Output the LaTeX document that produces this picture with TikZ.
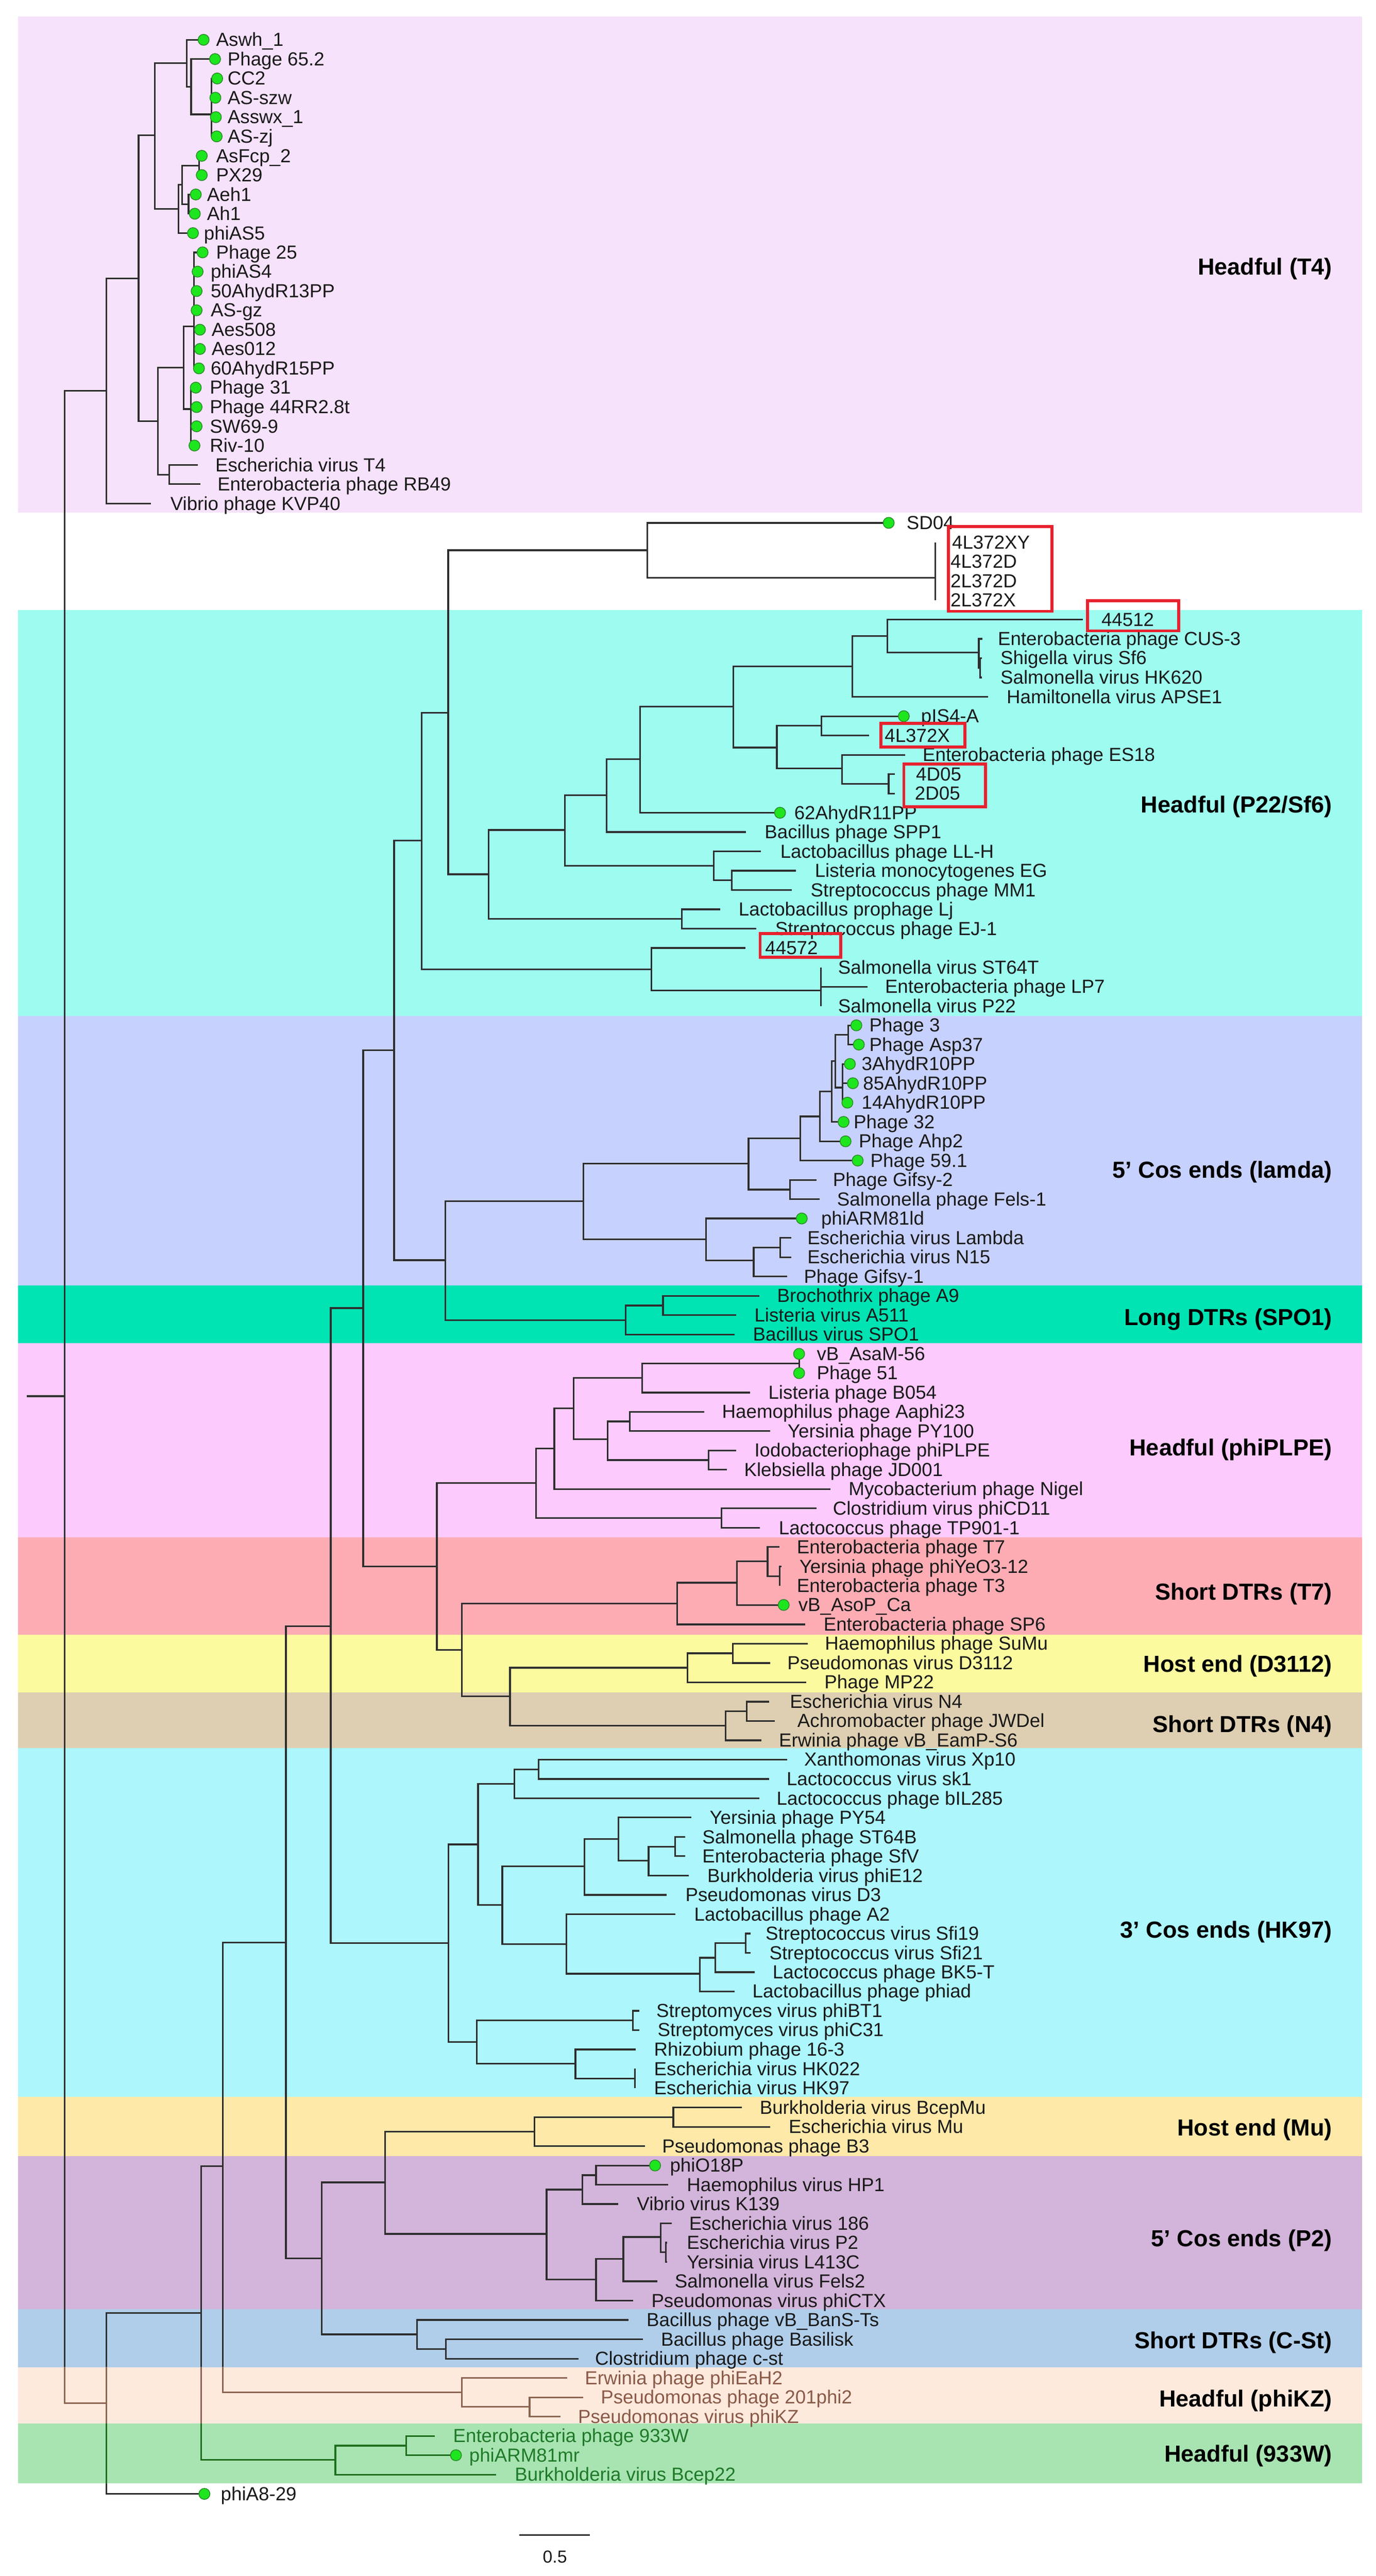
\documentclass[tikz,border=0pt]{standalone}
\usepackage{fontspec}
\setmainfont{Liberation Sans}
\definecolor{bT4}{HTML}{F6E2FB}
\definecolor{bP22}{HTML}{9EFBEF}
\definecolor{bLam}{HTML}{C7D1FD}
\definecolor{bSPO}{HTML}{00E3B3}
\definecolor{bPL}{HTML}{FCCAFC}
\definecolor{bT7}{HTML}{FDACB4}
\definecolor{bDT}{HTML}{FBFA9F}
\definecolor{bNF}{HTML}{DECFB2}
\definecolor{bHK}{HTML}{ACF6FC}
\definecolor{bMu}{HTML}{FEE9A9}
\definecolor{bPT}{HTML}{D3B4DA}
\definecolor{bCS}{HTML}{B0CEEA}
\definecolor{bKZ}{HTML}{FEE9DD}
\definecolor{bW}{HTML}{A8E4B1}
\definecolor{treec}{HTML}{2E2E2E}
\definecolor{txtc}{HTML}{1A1A1A}
\definecolor{kzline}{HTML}{8C6452}
\definecolor{kztext}{HTML}{8A5A48}
\definecolor{wline}{HTML}{1E6E1E}
\definecolor{wtext}{HTML}{1F7A2A}
\definecolor{dotg}{HTML}{1EE61E}
\definecolor{dotedge}{HTML}{2B8F2B}
\definecolor{redb}{HTML}{E8212E}
\newcommand\LblFont{\fontsize{11.4}{13}\selectfont}
\newcommand\CladeFont{\bfseries\fontsize{14}{16}\selectfont}
\newif\ifLines \newif\ifLabels \newif\ifDots
\newcommand\TNode[4]{\coordinate (#1) at (#3,#4);\ifLines\draw[br] (#2) |- (#1);\fi}
\newcommand\TLeaf[7][]{\coordinate (#2) at (#4,#5);\ifLines\draw[br] (#3) |- (#2);\fi\ifLabels\node[lbl,#1] (#2-t) at (#6,#5) {#7};\fi}
\newcommand\TLeafD[7][]{\TLeaf[#1]{#2}{#3}{#4}{#5}{#6}{#7}\ifDots\node[gdot] (#2-d) at (#2) {};\fi}
\tikzset{
 brline/.style={draw=treec, line width=1.0pt},
 br/.style={brline},
 lbl/.style={anchor=base west, inner sep=0pt, yshift=-3.9pt, font=\LblFont, text=txtc},
 gdot/.style={circle, fill=dotg, draw=dotedge, line width=0.5pt, minimum size=6.6pt, inner sep=0pt},
 clade/.style={anchor=base east, inner sep=0pt, yshift=-5pt, font=\CladeFont, text=black},
 rbox/.style={draw=redb, line width=1.8pt},
 kzt/.style={text=kztext},
 wt/.style={text=wtext}
}
\newcommand\TreeBody{%
\coordinate (root0) at (16.1,841.4);
\coordinate (root) at (38.9,841.4);
\ifLines\draw[br] (root0) -- (root);\fi
% ---------- T4 ----------
\TNode{t4n}{root}{64.0}{235.5}
\TNode{t4a}{t4n}{83.5}{167.7}
\TLeaf{kvp}{t4n}{91.0}{303.5}{102.5}{Vibrio phage KVP40}
\TNode{t4b}{t4a}{93.2}{81.5}
\TNode{t4c}{t4a}{95.1}{253.8}
\TNode{t4d}{t4b}{112.5}{38.1}
\TLeafD{aswh}{t4d}{122.7}{24.0}{130.1}{Aswh\_1}
\TNode{t4e}{t4d}{115.2}{52.2}
\TLeafD{p652}{t4e}{129.6}{35.6}{137.0}{Phage 65.2}
\TNode{t4f}{t4e}{127.4}{68.9}
\TLeafD{cc2}{t4f}{130.9}{47.3}{137.0}{CC2}
\TLeafD{asszw}{t4f}{129.8}{58.9}{137.0}{AS-szw}
\TLeafD{asswx}{t4f}{130.1}{70.6}{137.0}{Asswx\_1}
\TLeafD{aszj}{t4f}{130.6}{82.2}{137.0}{AS-zj}
\TNode{t4g}{t4b}{107.5}{125.9}
\TNode{t4h}{t4g}{109.7}{111.3}
\TNode{t4i}{t4h}{119.9}{99.7}
\TLeafD{asfcp}{t4i}{121.6}{93.9}{130.1}{AsFcp\_2}
\TLeafD{px29}{t4i}{121.6}{105.5}{130.1}{PX29}
\TNode{t4j}{t4h}{113.6}{123.0}
\TLeafD{aeh1}{t4j}{118.0}{117.2}{124.6}{Aeh1}
\TLeafD{ah1}{t4j}{117.4}{128.8}{124.6}{Ah1}
\TLeafD{phias5}{t4g}{116.3}{140.5}{122.7}{phiAS5}
\TNode{t4r}{t4c}{110.6}{221.5}
\TNode{t4p}{t4r}{117.0}{196.6}
\TLeafD{p25}{t4p}{122.1}{152.1}{130.1}{Phage 25}
\TLeafD{phias4}{t4p}{119.1}{163.7}{126.8}{phiAS4}
\TLeafD{a50}{t4p}{118.5}{175.4}{126.8}{50AhydR13PP}
\TLeafD{asgz}{t4p}{118.5}{187.0}{126.8}{AS-gz}
\TLeafD{aes508}{t4p}{120.5}{198.7}{127.4}{Aes508}
\TLeafD{aes012}{t4p}{120.5}{210.3}{127.4}{Aes012}
\TLeafD{a60}{t4p}{119.9}{222.0}{126.8}{60AhydR15PP}
\TNode{t4q}{t4r}{115.0}{246.5}
\TLeafD{p31}{t4q}{118.0}{233.6}{126.3}{Phage 31}
\TLeafD{p44rr}{t4q}{118.5}{245.3}{126.3}{Phage 44RR2.8t}
\TLeafD{sw69}{t4q}{118.5}{256.9}{126.3}{SW69-9}
\TLeafD{riv10}{t4q}{117.2}{268.5}{126.3}{Riv-10}
\TNode{t4t}{t4c}{102.0}{286.0}
\TLeaf{t4}{t4t}{119.1}{280.2}{129.6}{Escherichia virus T4}
\TLeaf{rb49}{t4t}{120.7}{291.8}{130.9}{Enterobacteria phage RB49}
% ---------- lower main clade ----------
\TNode{m0}{root}{64.0}{1448.3}
\TLeafD{a829}{m0}{123.2}{1502.9}{132.9}{phiA8-29}
\TNode{m1}{m0}{121.3}{1393.8}
\TNode{m2}{m1}{134.3}{1305.5}
\TNode{m3}{m2}{172.3}{1170.6}
\TNode{m4}{m3}{199.3}{980.0}
\TNode{m5}{m4}{218.9}{788.3}
\TNode{m6}{m5}{237.5}{633.0}
\TNode{m8}{m6}{254.2}{506.6}
\TNode{m9}{m8}{270.1}{429.5}
% SD04 group
\TNode{sd}{m9}{390.2}{331.6}
\TLeafD{sd04}{sd}{535.6}{315.1}{546.2}{SD04}
\TNode{lgrp}{sd}{563.7}{348.3}
\TLeaf{lxy}{lgrp}{563.7}{326.8}{573.6}{4L372XY}
\TLeaf{lfd}{lgrp}{563.7}{338.4}{572.7}{4L372D}
\TLeaf{ltd}{lgrp}{563.7}{350.1}{572.7}{2L372D}
\TLeaf{ltx}{lgrp}{563.7}{361.7}{572.7}{2L372X}
% P22/Sf6
\TNode{m10}{m9}{294.4}{526.9}
\TNode{m11}{m10}{340.5}{500.2}
\TNode{m12}{m11}{365.5}{479.1}
\TLeaf{spp1}{m12}{449.5}{501.4}{460.7}{Bacillus phage SPP1}
\TNode{m13}{m12}{385.8}{457.6}
\TLeafD{a62}{m13}{470.1}{489.8}{478.5}{62AhydR11PP}
\TNode{m14}{m13}{442.0}{425.9}
\TNode{m15}{m14}{513.8}{401.6}
\TNode{m17}{m15}{534.7}{383.4}
\TLeaf{nfft}{m17}{652.6}{373.4}{663.6}{44512}
\TNode{cus}{m17}{589.9}{393.1}
\TLeaf{cus3}{cus}{592.0}{385.0}{601.2}{Enterobacteria phage CUS-3}
\TNode{sfn}{cus}{590.8}{402.5}
\TLeaf{sf6}{sfn}{591.8}{396.6}{602.8}{Shigella virus Sf6}
\TLeaf{hk620}{sfn}{591.8}{408.3}{602.8}{Salmonella virus HK620}
\TLeaf{apse}{m15}{595.6}{419.9}{606.5}{Hamiltonella virus APSE1}
\TNode{m16}{m14}{468.2}{450.5}
\TNode{m18}{m16}{495.1}{437.4}
\TLeafD{pis4}{m18}{544.7}{431.6}{554.9}{pIS4-A}
\TLeaf{lfx}{m18}{523.8}{443.2}{533.0}{4L372X}
\TNode{m19}{m16}{507.5}{463.1}
\TLeaf{es18}{m19}{545.6}{454.9}{555.9}{Enterobacteria phage ES18}
\TNode{dfive}{m19}{535.6}{472.35}
\TLeaf{dfour}{dfive}{539.4}{466.5}{551.9}{4D05}
\TLeaf{dtwo}{dfive}{539.4}{478.2}{551.2}{2D05}
\TNode{llh}{m11}{430.1}{521.7}
\TLeaf{llhl}{llh}{458.5}{513.1}{470.1}{Lactobacillus phage LL-H}
\TNode{egn}{llh}{441.1}{530.55}
\TLeaf{egl}{egn}{479.7}{524.7}{490.9}{Listeria monocytogenes EG}
\TLeaf{mm1}{egn}{477.2}{536.4}{488.4}{Streptococcus phage MM1}
\TNode{ljn}{m10}{410.8}{553.85}
\TLeaf{ljl}{ljn}{433.9}{548.0}{445.0}{Lactobacillus prophage Lj}
\TLeaf{ej1}{ljn}{455.7}{559.7}{467.0}{Streptococcus phage EJ-1}
\TNode{pff}{m8}{392.7}{584.1}
\TLeaf{nffs}{pff}{449.4}{571.3}{461.0}{44572}
\TNode{stn}{pff}{494.7}{596.9}
\TLeaf{st64t}{stn}{494.7}{583.0}{504.9}{Salmonella virus ST64T}
\TLeaf{lp7}{stn}{522.8}{594.6}{533.2}{Enterobacteria phage LP7}
\TLeaf{p22}{stn}{494.7}{606.3}{504.9}{Salmonella virus P22}
% lambda
\TNode{lam}{m6}{268.3}{759.45}
\TNode{la1}{lam}{351.5}{723.9}
\TNode{la2}{la1}{451.1}{701.3}
\TNode{la4}{la2}{482.3}{686.1}
\TLeafD{p591}{la4}{516.9}{699.4}{524.4}{Phage 59.1}
\TNode{la5}{la4}{494.1}{672.8}
\TLeafD{ahp2}{la5}{509.6}{687.8}{517.4}{Phage Ahp2}
\TNode{la6}{la5}{501.3}{657.7}
\TLeafD{p32}{la6}{508.4}{676.1}{514.3}{Phage 32}
\TNode{la7}{la6}{503.4}{639.5}
\TNode{lbn}{la7}{511.3}{623.7}
\TLeafD{ph3}{lbn}{516.1}{617.9}{523.8}{Phage 3}
\TLeafD{asp37}{lbn}{517.6}{629.5}{523.8}{Phage Asp37}
\TNode{lcn}{la7}{507.9}{655.4}
\TLeafD{athree}{lcn}{512.2}{641.2}{519.1}{3AhydR10PP}
\TLeafD{aeightfive}{lcn}{514.0}{652.8}{520.0}{85AhydR10PP}
\TLeafD{afourteen}{lcn}{510.7}{664.5}{519.1}{14AhydR10PP}
\TNode{gifn}{la2}{476.0}{716.9}
\TLeaf{gif2}{gifn}{492.0}{711.1}{501.8}{Phage Gifsy-2}
\TLeaf{fels1}{gifn}{494.1}{722.7}{504.3}{Salmonella phage Fels-1}
\TNode{la3}{la1}{425.5}{746.9}
\TLeafD{arm}{la3}{483.2}{734.3}{494.7}{phiARM81ld}
\TNode{lbd}{la3}{454.2}{759.5}
\TNode{lbdn}{lbd}{470.1}{751.8}
\TLeaf{lambda}{lbdn}{476.8}{746.0}{486.4}{Escherichia virus Lambda}
\TLeaf{nfifteen}{lbdn}{476.8}{757.6}{486.4}{Escherichia virus N15}
\TLeaf{gifsy1}{lbd}{474.4}{769.3}{484.3}{Phage Gifsy-1}
% SPO1
\TNode{spo}{lam}{377.1}{795.5}
\TNode{spoa}{spo}{399.6}{786.75}
\TLeaf{anine}{spoa}{457.6}{780.9}{468.2}{Brochothrix phage A9}
\TLeaf{afiveoneone}{spoa}{443.6}{792.6}{454.5}{Listeria virus A511}
\TLeaf{spo1}{spo}{442.6}{804.2}{453.6}{Bacillus virus SPO1}
% phiPLPE
\TNode{m7}{m5}{263.3}{943.9}
\TNode{pl}{m7}{323.0}{893.7}
\TNode{pl1}{pl}{334.1}{872.8}
\TNode{pl2}{pl1}{345.6}{848.6}
\TNode{pl3}{pl2}{387.1}{830.4}
\TNode{asa}{pl3}{481.6}{821.7}
\TLeafD{asam}{asa}{481.6}{815.9}{492.1}{vB\_AsaM-56}
\TLeafD{p51}{asa}{481.6}{827.5}{492.1}{Phage 51}
\TLeaf{b054}{pl3}{452.0}{839.2}{462.9}{Listeria phage B054}
\TNode{pl4}{pl2}{366.2}{867.4}
\TNode{aan}{pl4}{379.6}{856.6}
\TLeaf{aaphi}{aan}{424.5}{850.8}{435.0}{Haemophilus phage Aaphi23}
\TLeaf{py100}{aan}{464.1}{862.4}{474.5}{Yersinia phage PY100}
\TNode{jdn}{pl4}{427.0}{879.9}
\TLeaf{plpe}{jdn}{443.6}{874.1}{454.5}{Iodobacteriophage phiPLPE}
\TLeaf{jd001}{jdn}{438.0}{885.7}{448.3}{Klebsiella phage JD001}
\TLeaf{nigel}{pl1}{500.4}{897.4}{511.3}{Mycobacterium phage Nigel}
\TNode{pl5}{pl}{434.8}{914.85}
\TLeaf{cd11}{pl5}{492.0}{909.0}{501.8}{Clostridium virus phiCD11}
\TLeaf{tp901}{pl5}{457.9}{920.7}{469.2}{Lactococcus phage TP901-1}
% T7
\TNode{m20}{m7}{278.4}{994.2}
\TNode{t7n}{m20}{408.0}{966.3}
\TNode{t7a}{t7n}{444.2}{953.8}
\TNode{t7b}{t7a}{462.6}{940.8}
\TLeaf{t7}{t7b}{469.9}{932.3}{480.1}{Enterobacteria phage T7}
\TNode{t7c}{t7b}{469.9}{949.8}
\TLeaf{yeo}{t7c}{471.0}{944.0}{481.6}{Yersinia phage phiYeO3-12}
\TLeaf{t3}{t7c}{469.9}{955.6}{480.1}{Enterobacteria phage T3}
\TLeafD{asop}{t7a}{472.3}{967.2}{481.0}{vB\_AsoP\_Ca}
\TLeaf{sp6}{t7n}{485.4}{978.9}{496.2}{Enterobacteria phage SP6}
% D3112 / N4
\TNode{m21}{m20}{307.4}{1022.3}
\TNode{dtn}{m21}{414.3}{1005.0}
\TNode{sumu}{dtn}{441.6}{996.35}
\TLeaf{sumul}{sumu}{486.9}{990.5}{497.0}{Haemophilus phage SuMu}
\TLeaf{dtot}{sumu}{464.1}{1002.2}{474.3}{Pseudomonas virus D3112}
\TLeaf{mp22}{dtn}{486.0}{1013.8}{496.7}{Phage MP22}
\TNode{nfn}{m21}{437.2}{1039.9}
\TNode{nfa}{nfn}{450.0}{1031.3}
\TLeaf{nfour}{nfa}{463.5}{1025.5}{475.9}{Escherichia virus N4}
\TLeaf{jwdel}{nfa}{467.0}{1037.1}{480.4}{Achromobacter phage JWDel}
\TLeaf{ssix}{nfn}{458.8}{1048.8}{469.3}{Erwinia phage vB\_EamP-S6}
% HK97
\TNode{hk}{m4}{270.2}{1171.0}
\TNode{h1}{hk}{288.1}{1111.5}
\TNode{h3}{h1}{310.1}{1075.0}
\TNode{h5}{h3}{324.5}{1066.25}
\TLeaf{xp10}{h5}{474.3}{1060.4}{484.5}{Xanthomonas virus Xp10}
\TLeaf{sk1}{h5}{463.5}{1072.1}{473.9}{Lactococcus virus sk1}
\TLeaf{bil}{h3}{457.6}{1083.7}{467.9}{Lactococcus phage bIL285}
\TNode{h4}{h1}{302.7}{1148.0}
\TNode{h6}{h4}{352.3}{1124.6}
\TNode{h8}{h6}{372.7}{1108.3}
\TLeaf{py54}{h8}{416.8}{1095.3}{427.5}{Yersinia phage PY54}
\TNode{h9}{h8}{390.9}{1121.4}
\TNode{h10}{h9}{406.9}{1112.8}
\TLeaf{st64b}{h10}{412.9}{1107.0}{423.1}{Salmonella phage ST64B}
\TLeaf{sfv}{h10}{412.9}{1118.6}{423.1}{Enterobacteria phage SfV}
\TLeaf{phie12}{h9}{415.0}{1130.3}{426.1}{Burkholderia virus phiE12}
\TLeaf{dthree}{h6}{401.8}{1141.9}{412.9}{Pseudomonas virus D3}
\TNode{h7}{h4}{341.3}{1171.5}
\TLeaf{atwo}{h7}{407.1}{1153.6}{418.2}{Lactobacillus phage A2}
\TNode{h11}{h7}{421.8}{1189.4}
\TNode{h12}{h11}{431.0}{1179.8}
\TNode{h13}{h12}{449.5}{1171.05}
\TLeaf{sfinineteen}{h13}{452.4}{1165.2}{461.2}{Streptococcus virus Sfi19}
\TLeaf{sfitwentyone}{h13}{452.4}{1176.9}{463.5}{Streptococcus virus Sfi21}
\TLeaf{bkfive}{h12}{454.7}{1188.5}{465.5}{Lactococcus phage BK5-T}
\TLeaf{phiad}{h11}{442.8}{1200.1}{453.3}{Lactobacillus phage phiad}
\TNode{h2}{hk}{287.3}{1230.6}
\TNode{h14}{h2}{381.3}{1217.6}
\TLeaf{bt1}{h14}{385.4}{1211.8}{395.4}{Streptomyces virus phiBT1}
\TLeaf{c31}{h14}{385.4}{1223.4}{396.2}{Streptomyces virus phiC31}
\TNode{h15}{h2}{346.8}{1243.6}
\TLeaf{rhiz}{h15}{383.2}{1235.1}{394.0}{Rhizobium phage 16-3}
\TNode{h16}{h15}{382.6}{1252.55}
\TLeaf{hkzt}{h16}{382.6}{1246.7}{394.0}{Escherichia virus HK022}
\TLeaf{hkns}{h16}{382.6}{1258.4}{394.0}{Escherichia virus HK97}
% Mu / P2 / C-St
\TNode{mu}{m3}{193.8}{1360.9}
\TNode{mu1}{mu}{232.1}{1315.2}
\TNode{mu2}{mu1}{322.0}{1284.6}
\TNode{mu3}{mu2}{405.8}{1275.85}
\TLeaf{bcepmu}{mu3}{447.1}{1270.0}{457.7}{Burkholderia virus BcepMu}
\TLeaf{mul}{mu3}{464.1}{1281.7}{475.2}{Escherichia virus Mu}
\TLeaf{bthree}{mu2}{388.7}{1293.3}{398.9}{Pseudomonas phage B3}
\TNode{ptn}{mu1}{329.4}{1346.2}
\TNode{pta}{ptn}{350.9}{1319.5}
\TNode{ptc}{pta}{359.2}{1310.8}
\TLeafD{oep}{ptc}{394.8}{1305.0}{403.6}{phiO18P}
\TLeaf{hp1}{ptc}{402.6}{1316.6}{413.8}{Haemophilus virus HP1}
\TLeaf{k139}{pta}{372.7}{1328.2}{383.7}{Vibrio virus K139}
\TNode{ptb}{ptn}{359.2}{1373.8}
\TNode{ptd}{ptb}{375.7}{1361.2}
\TNode{pte}{ptd}{398.3}{1348.1}
\TLeaf{veoe}{pte}{405.0}{1339.9}{415.2}{Escherichia virus 186}
\TNode{ptf}{pte}{401.3}{1357.35}
\TLeaf{ptl}{ptf}{402.0}{1351.5}{413.8}{Escherichia virus P2}
\TLeaf{lfot}{ptf}{402.0}{1363.2}{413.8}{Yersinia virus L413C}
\TLeaf{fels2}{ptd}{396.3}{1374.8}{406.5}{Salmonella virus Fels2}
\TLeaf{ctx}{ptb}{381.6}{1386.5}{392.4}{Pseudomonas virus phiCTX}
\TNode{cst}{mu}{251.4}{1406.8}
\TLeaf{bans}{cst}{378.9}{1398.1}{389.5}{Bacillus phage vB\_BanS-Ts}
\TNode{cst2}{cst}{268.8}{1415.6}
\TLeaf{basil}{cst2}{387.6}{1409.8}{398.2}{Bacillus phage Basilisk}
\TLeaf{cstl}{cst2}{348.7}{1421.4}{358.4}{Clostridium phage c-st}
% phiKZ
\TNode{kz}{m2}{278.4}{1441.7}
\TLeaf[kzt]{eah2}{kz}{341.8}{1433.0}{352.3}{Erwinia phage phiEaH2}
\TNode{kzb}{kz}{319.2}{1450.5}
\TLeaf[kzt]{ptoo}{kzb}{351.5}{1444.7}{361.9}{Pseudomonas phage 201phi2}
\TLeaf[kzt]{phikz}{kzb}{337.7}{1456.3}{348.2}{Pseudomonas virus phiKZ}
% 933W
\TNode{wn}{m1}{202.1}{1482.4}
\TNode{wa}{wn}{244.8}{1473.8}
\TLeaf[wt]{wnts}{wa}{261.9}{1468.0}{272.9}{Enterobacteria phage 933W}
\TLeafD[wt]{armmr}{wa}{274.8}{1479.6}{282.6}{phiARM81mr}
\TLeaf[wt]{bceptt}{wn}{299.1}{1491.3}{310.1}{Burkholderia virus Bcep22}
}
\begin{document}
\begin{tikzpicture}[x=1pt,y=-1pt]
\useasboundingbox (0,0) rectangle (829,1552.4);
\fill[white] (0,0) rectangle (829,1552.4);
% bands
\fill[bT4]  (11,10.0)   rectangle (821,309.0);
\fill[bP22] (11,367.5)  rectangle (821,612.2);
\fill[bLam] (11,612.2)  rectangle (821,774.5);
\fill[bSPO] (11,774.5)  rectangle (821,809.5);
\fill[bPL]  (11,809.5)  rectangle (821,926.5);
\fill[bT7]  (11,926.5)  rectangle (821,985.0);
\fill[bDT]  (11,985.0)  rectangle (821,1020.0);
\fill[bNF]  (11,1020.0) rectangle (821,1053.5);
\fill[bHK]  (11,1053.5) rectangle (821,1263.5);
\fill[bMu]  (11,1263.5) rectangle (821,1299.4);
\fill[bPT]  (11,1299.4) rectangle (821,1391.5);
\fill[bCS]  (11,1391.5) rectangle (821,1426.5);
\fill[bKZ]  (11,1426.5) rectangle (821,1460.5);
\fill[bW]   (11,1460.5) rectangle (821,1496.6);
% tree: pass 1 lines + labels
\Linestrue\Labelstrue\Dotsfalse
\TreeBody
% coloured clades
\begin{scope}
\clip (0,1426.5) rectangle (829,1460.5);
\tikzset{br/.style={brline,draw=kzline}}
\Labelsfalse
\TreeBody
\end{scope}
\begin{scope}
\clip (0,1460.5) rectangle (829,1496.6);
\tikzset{br/.style={brline,draw=wline}}
\Labelsfalse
\TreeBody
\end{scope}
% dots on top
\Linesfalse\Labelsfalse\Dotstrue
\TreeBody
% red boxes
\draw[rbox] (571.5,317.3) rectangle (633.9,368.4);
\draw[rbox] (655.5,361.9) rectangle (710.4,380.2);
\draw[rbox] (531.0,436.0) rectangle (581.5,450.1);
\draw[rbox] (544.7,460.5) rectangle (594.0,486.3);
\draw[rbox] (458.1,562.7) rectangle (506.6,576.8);
% clade labels
\node[clade] (cT4)  at (803,160.5)  {Headful (T4)};
\node[clade] (cP22) at (803,484.7)  {Headful (P22/Sf6)};
\node[clade] (cLam) at (803,704.9)  {5’ Cos ends (lamda)};
\node[clade] (cSPO) at (803,793.8)  {Long DTRs (SPO1)};
\node[clade] (cPL)  at (803,872.4)  {Headful (phiPLPE)};
\node[clade] (cT7)  at (803,959.2)  {Short DTRs (T7)};
\node[clade] (cDT)  at (803,1002.5) {Host end (D3112)};
\node[clade] (cNF)  at (803,1038.9) {Short DTRs (N4)};
\node[clade] (cHK)  at (803,1162.8) {3’ Cos ends (HK97)};
\node[clade] (cMu)  at (803,1282.2) {Host end (Mu)};
\node[clade] (cPT)  at (803,1348.7) {5’ Cos ends (P2)};
\node[clade] (cCS)  at (803,1410.3) {Short DTRs (C-St)};
\node[clade] (cKZ)  at (803,1445.3) {Headful (phiKZ)};
\node[clade] (cW)   at (803,1478.7) {Headful (933W)};
% scale bar
\coordinate (sb1) at (312.9,1527.8);
\coordinate (sb2) at (355.6,1527.8);
\draw[brline] (sb1) -- (sb2);
\node[inner sep=0pt, font=\fontsize{10.5}{12}\selectfont, text=txtc] (sbl) at (334.4,1541.0) {0.5};
\end{tikzpicture}
\end{document}
